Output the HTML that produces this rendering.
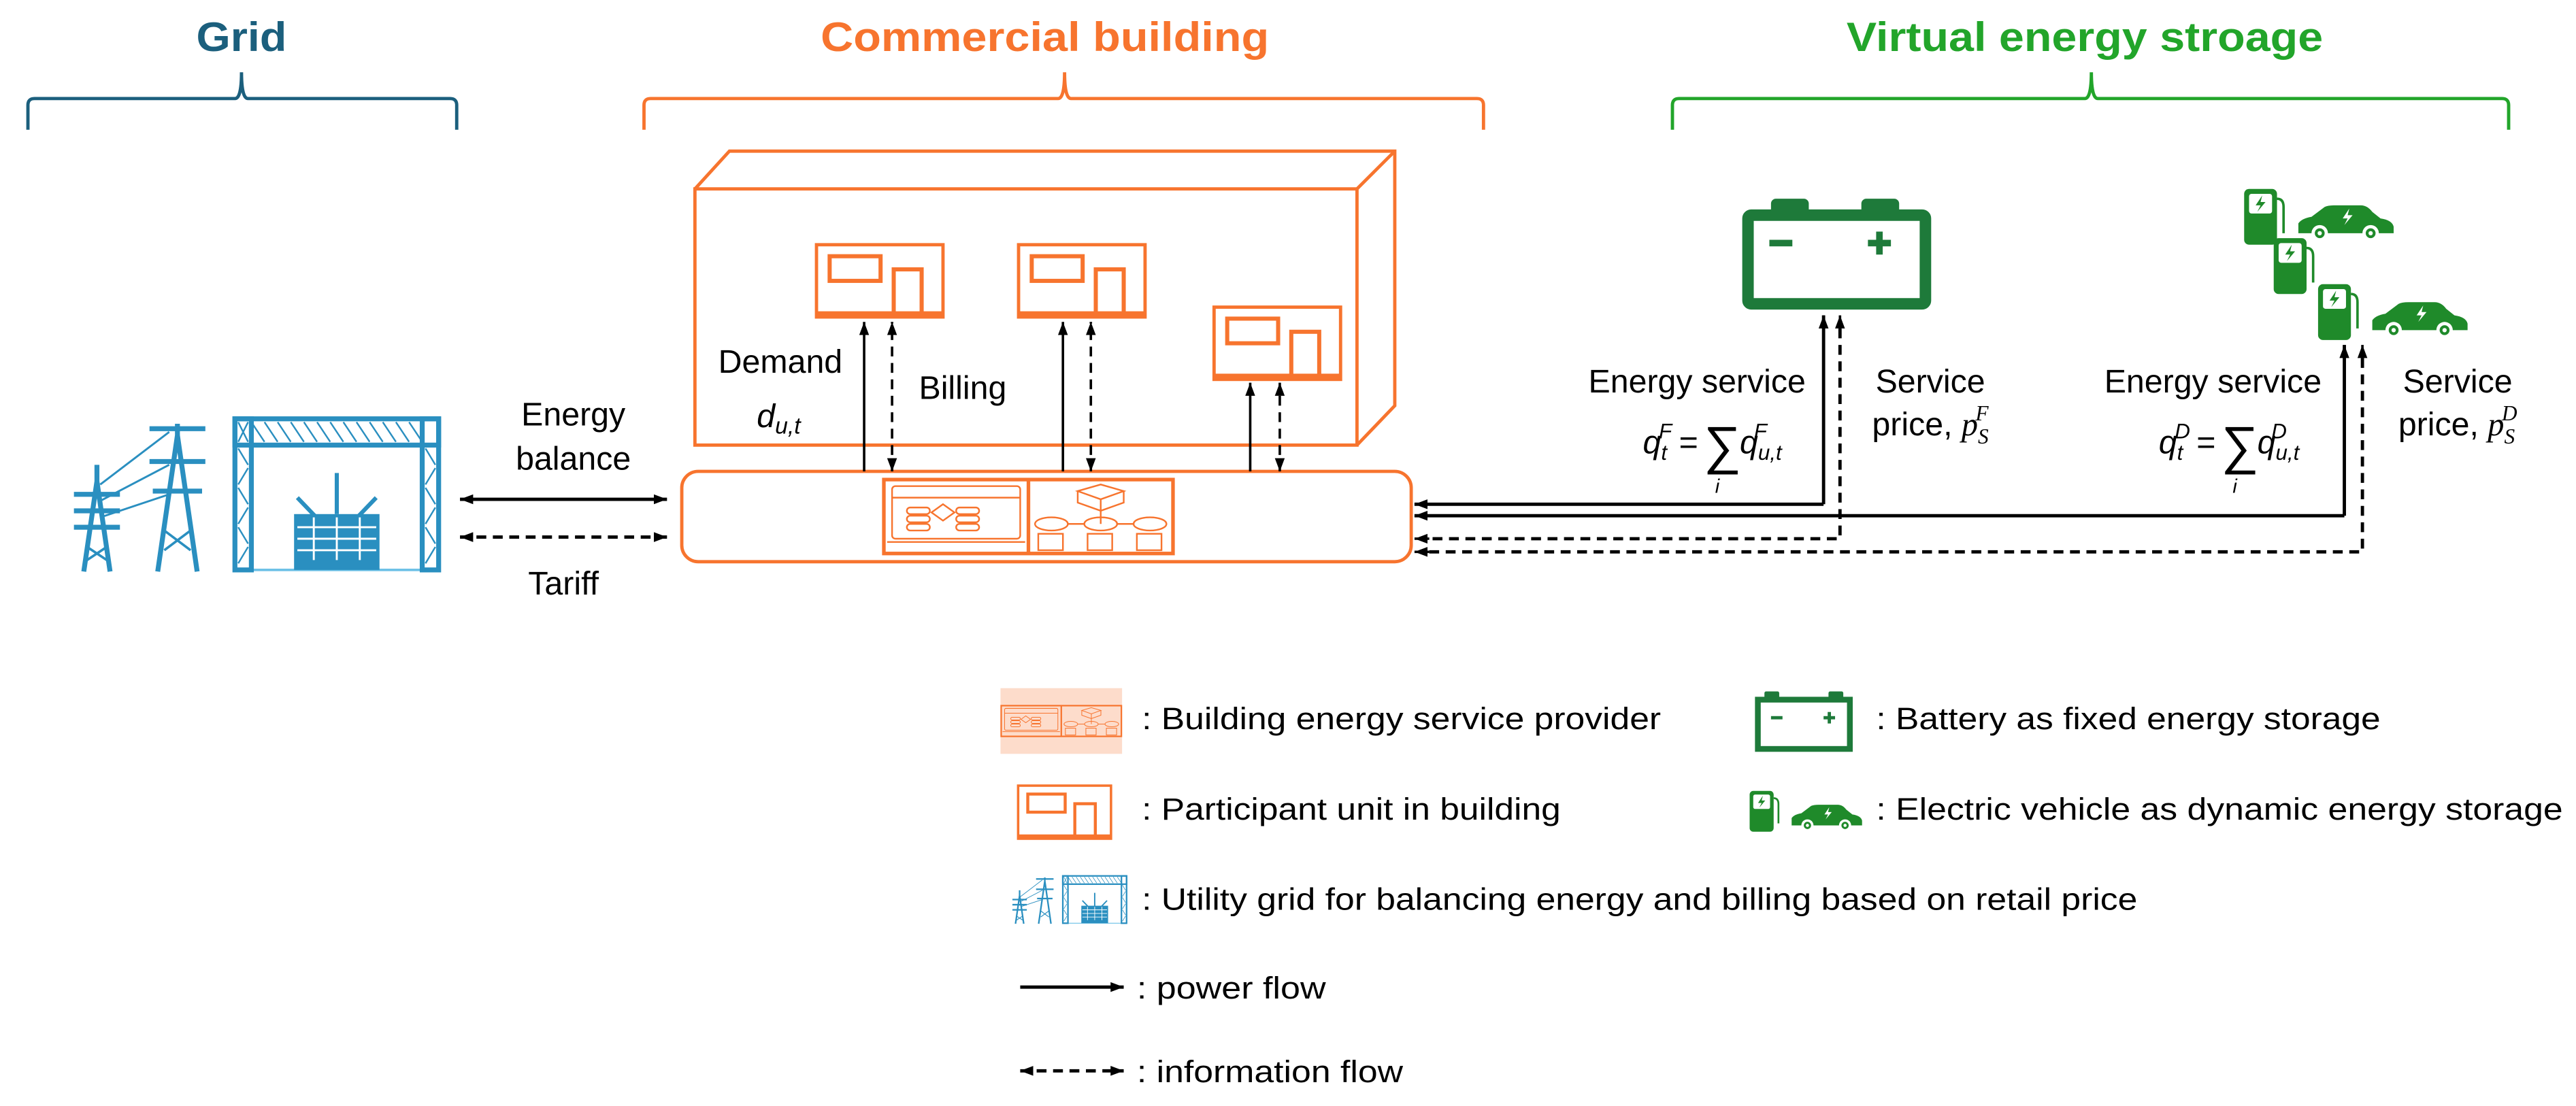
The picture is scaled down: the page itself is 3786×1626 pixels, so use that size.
<!DOCTYPE html>
<html><head><meta charset="utf-8"><style>
html,body{margin:0;padding:0;background:#fff;}
svg{display:block;}
text{font-family:"Liberation Sans",Arial,sans-serif;}
</style></head><body>
<svg width="3786" height="1626" viewBox="0 0 1568 673.4" xmlns="http://www.w3.org/2000/svg">
<defs>
<marker id="ah" viewBox="0 0 8 6" refX="8" refY="3" markerWidth="8" markerHeight="6" markerUnits="userSpaceOnUse" orient="auto-start-reverse"><path d="M0,0 L8,3 L0,6 z" fill="#000"/></marker>
<symbol id="unit" viewBox="0 0 79 46" overflow="visible">
<rect x="1" y="1" width="77" height="44" fill="#fff" stroke="#f7742e" stroke-width="2"/>
<line x1="1" y1="43" x2="78" y2="43" stroke="#f7742e" stroke-width="3"/>
<rect x="9" y="8" width="31" height="15" fill="none" stroke="#f7742e" stroke-width="2.5"/>
<rect x="48" y="16" width="17" height="27" fill="none" stroke="#f7742e" stroke-width="2.5"/>
</symbol>
<symbol id="prov" viewBox="0 0 178 47" overflow="visible">
<rect x="1" y="1" width="176" height="45" fill="#fff" stroke="#f7742e" stroke-width="2.2"/>
<line x1="89" y1="1" x2="89" y2="46" stroke="#f7742e" stroke-width="2.2"/>
<g fill="none" stroke="#f7742e" stroke-width="1">
<rect x="6" y="5" width="78" height="32" rx="2"/>
<line x1="6" y1="12" x2="84" y2="12"/>
<line x1="3" y1="39" x2="87" y2="39"/>
<path d="M30,21 L37,16 L44,21 L37,26 Z"/>
<rect x="15" y="18" width="14" height="4" rx="2"/><rect x="15" y="23" width="14" height="4" rx="2"/><rect x="15" y="28" width="14" height="4" rx="2"/>
<rect x="45" y="18" width="14" height="4" rx="2"/><rect x="45" y="23" width="14" height="4" rx="2"/><rect x="45" y="28" width="14" height="4" rx="2"/>
<path d="M119,8 L133,4 L147,8 L133,13 Z M119,8 L119,15 L133,20 L147,15 L147,8 M133,13 L133,28"/>
<ellipse cx="103" cy="28" rx="10" ry="4"/><ellipse cx="133" cy="28" rx="10" ry="4"/><ellipse cx="163" cy="28" rx="10" ry="4"/>
<line x1="113" y1="28" x2="123" y2="28"/><line x1="143" y1="28" x2="153" y2="28"/>
<rect x="95" y="34" width="15" height="10"/><rect x="125" y="34" width="15" height="10"/><rect x="155" y="34" width="15" height="10"/>
</g>
</symbol>
<symbol id="charger" viewBox="0 0 26 34" overflow="visible">
<rect x="0" y="0" width="20" height="34" rx="3" fill="#1f8a2a"/>
<rect x="3" y="3" width="14" height="12" rx="1.5" fill="#fff"/>
<path d="M11,4 L7,10 L10,10 L8,14 L13,8 L10,8 Z" fill="#1f8a2a"/>
<path d="M20,6 Q24,6 24,11 L24,27" fill="none" stroke="#1f8a2a" stroke-width="1.5"/>
</symbol>
<symbol id="car" viewBox="0 0 58 23" overflow="visible">
<path d="M0,17 L0,11 Q2,8 8,7 L16,1 Q18,0 22,0 L38,0 Q42,0 45,4 L50,8 Q57,9 58,13 L58,17 Z" fill="#1f8a2a"/>
<circle cx="13" cy="17" r="5" fill="#fff"/><circle cx="13" cy="17" r="3" fill="#1f8a2a"/><circle cx="13" cy="17" r="1.3" fill="#fff"/>
<circle cx="44" cy="17" r="5" fill="#fff"/><circle cx="44" cy="17" r="3" fill="#1f8a2a"/><circle cx="44" cy="17" r="1.3" fill="#fff"/>
<path d="M31,2 L27,8 L30,8 L28,12 L33,6 L30,6 Z" fill="#fff"/>
</symbol>
<symbol id="grid" viewBox="0 0 230 101" overflow="visible">
<g stroke="#2a8fc0" stroke-width="3" fill="none">
<!-- tower 1 -->
<path d="M10,95 L18,40 L26,95 M18,40 L18,30"/>
<line x1="4" y1="48" x2="32" y2="48"/><line x1="4" y1="58" x2="32" y2="58"/><line x1="4" y1="68" x2="32" y2="68"/>
<path d="M12,80 L24,88 M24,80 L12,88" stroke-width="1.5"/>
<!-- tower 2 -->
<path d="M55,95 L67,12 L79,95 M67,12 L67,5"/>
<line x1="50" y1="8" x2="84" y2="8"/><line x1="50" y1="28" x2="84" y2="28"/><line x1="52" y1="46" x2="82" y2="46"/>
<path d="M59,70 L75,82 M75,70 L59,82" stroke-width="1.5"/>
<path d="M20,42 L62,10 M20,52 L62,30 M20,62 L62,48" stroke-width="1.2"/>
<!-- substation frame -->
<rect x="102" y="2" width="124" height="92" stroke-width="1.5" stroke="#6cc0e6"/>
<rect x="102" y="2" width="124" height="16" stroke-width="3"/>
<rect x="102" y="2" width="10" height="92" stroke-width="3"/>
<rect x="216" y="2" width="10" height="92" stroke-width="3"/>
<path d="M104,4 L110,16 M110,4 L104,16 M112,4 L120,16 M120,4 L128,16 M128,4 L136,16 M136,4 L144,16 M144,4 L152,16 M152,4 L160,16 M160,4 L168,16 M168,4 L176,16 M176,4 L184,16 M184,4 L192,16 M192,4 L200,16 M200,4 L208,16 M208,4 L216,16" stroke-width="1"/>
<path d="M104,20 L110,30 M110,32 L104,42 M104,44 L110,54 M110,56 L104,66 M104,68 L110,78 M110,80 L104,90 M218,20 L224,30 M224,32 L218,42 M218,44 L224,54 M224,56 L218,66 M218,68 L224,78 M224,80 L218,90" stroke-width="1"/>
<path d="M140,50 L164,75 L188,50 M164,35 L164,60" stroke-width="2.5"/>
</g>
<rect x="138" y="60" width="52" height="34" fill="#2a8fc0"/>
<g stroke="#fff" stroke-width="1.2"><line x1="140" y1="68" x2="188" y2="68"/><line x1="140" y1="75" x2="188" y2="75"/><line x1="140" y1="82" x2="188" y2="82"/><line x1="150" y1="62" x2="150" y2="88"/><line x1="164" y1="62" x2="164" y2="88"/><line x1="178" y1="62" x2="178" y2="88"/></g>
</symbol>
</defs>

<!-- Titles -->
<text x="147" y="31" font-size="25" font-weight="bold" fill="#1b5f7d" text-anchor="middle" textLength="55" lengthAdjust="spacingAndGlyphs">Grid</text>
<text x="636" y="31" font-size="25" font-weight="bold" fill="#f7742e" text-anchor="middle" textLength="273" lengthAdjust="spacingAndGlyphs">Commercial building</text>
<text x="1269" y="31" font-size="25" font-weight="bold" fill="#22a52a" text-anchor="middle" textLength="290" lengthAdjust="spacingAndGlyphs">Virtual energy stroage</text>

<!-- Braces -->
<path d="M17,79 L17,64 Q17,60 21,60 L143,60 Q147,60 147,44 Q147,60 151,60 L274,60 Q278,60 278,64 L278,79" fill="none" stroke="#1b5f7d" stroke-width="2"/>
<path d="M392,79 L392,64 Q392,60 396,60 L644,60 Q648,60 648,44 Q648,60 652,60 L899,60 Q903,60 903,64 L903,79" fill="none" stroke="#f7742e" stroke-width="2"/>
<path d="M1018,79 L1018,64 Q1018,60 1022,60 L1269,60 Q1273,60 1273,44 Q1273,60 1277,60 L1523,60 Q1527,60 1527,64 L1527,79" fill="none" stroke="#22a52a" stroke-width="2"/>

<!-- Building box -->
<g fill="none" stroke="#f7742e" stroke-width="2">
<path d="M423,115 L444,92 L849,92 L849,247 L826,271"/>
<line x1="826" y1="115" x2="849" y2="92"/>
<rect x="423" y="115" width="403" height="156" fill="#fff"/>
</g>
<use href="#unit" x="496" y="148" width="79" height="46"/>
<use href="#unit" x="619" y="148" width="79" height="46"/>
<use href="#unit" x="738" y="186" width="79" height="46"/>

<!-- provider -->
<rect x="415" y="287" width="444" height="55" rx="10" fill="#fff" stroke="#f7742e" stroke-width="2"/>
<use href="#prov" x="537" y="291" width="178" height="47"/>

<!-- unit arrows -->
<g stroke="#000" stroke-width="1.5" fill="none">
<line x1="526" y1="287" x2="526" y2="196" marker-end="url(#ah)"/>
<line x1="543" y1="287" x2="543" y2="196" stroke-dasharray="6 4" marker-start="url(#ah)" marker-end="url(#ah)"/>
<line x1="647" y1="287" x2="647" y2="196" marker-end="url(#ah)"/>
<line x1="664" y1="287" x2="664" y2="196" stroke-dasharray="6 4" marker-start="url(#ah)" marker-end="url(#ah)"/>
<line x1="761" y1="287" x2="761" y2="233" marker-end="url(#ah)"/>
<line x1="779" y1="287" x2="779" y2="233" stroke-dasharray="6 4" marker-start="url(#ah)" marker-end="url(#ah)"/>
<!-- grid arrows -->
<line x1="280" y1="304" x2="406" y2="304" stroke-width="2" marker-start="url(#ah)" marker-end="url(#ah)"/>
<line x1="280" y1="327" x2="406" y2="327" stroke-width="2" stroke-dasharray="6 4" marker-start="url(#ah)" marker-end="url(#ah)"/>
<!-- storage arrows -->
<path d="M1110,307 L861,307 M1110,307 L1110,192" stroke-width="2"/>
<line x1="870" y1="307" x2="861" y2="307" marker-end="url(#ah)"/>
<line x1="1110" y1="200" x2="1110" y2="192" marker-end="url(#ah)"/>
<path d="M1427,314 L861,314 M1427,314 L1427,210" stroke-width="2"/>
<line x1="870" y1="314" x2="861" y2="314" marker-end="url(#ah)"/>
<line x1="1427" y1="218" x2="1427" y2="210" marker-end="url(#ah)"/>
<path d="M1120,200 L1120,328 L869,328" stroke-width="2" stroke-dasharray="6 4"/>
<line x1="870" y1="328" x2="861" y2="328" marker-end="url(#ah)"/>
<line x1="1120" y1="200" x2="1120" y2="192" marker-end="url(#ah)"/>
<path d="M1438,218 L1438,336 L869,336" stroke-width="2" stroke-dasharray="6 4"/>
<line x1="870" y1="336" x2="861" y2="336" marker-end="url(#ah)"/>
<line x1="1438" y1="218" x2="1438" y2="210" marker-end="url(#ah)"/>
</g>

<!-- grid icon -->
<use href="#grid" x="41" y="253" width="230" height="101"/>

<!-- battery -->
<rect x="1078" y="121" width="23" height="10" rx="3" fill="#1e7a3a"/>
<rect x="1133" y="121" width="23" height="10" rx="3" fill="#1e7a3a"/>
<rect x="1064" y="131" width="108" height="54" rx="2" fill="none" stroke="#1e7a3a" stroke-width="7"/>
<rect x="1077" y="146" width="14" height="4" fill="#1e7a3a"/>
<rect x="1137" y="146" width="14" height="4" fill="#1e7a3a"/><rect x="1142" y="141" width="4" height="14" fill="#1e7a3a"/>

<!-- EV -->
<use href="#car" x="1399" y="125" width="58" height="23"/>
<use href="#charger" x="1366" y="115" width="26" height="34"/>
<use href="#charger" x="1384" y="145" width="26" height="34"/>
<use href="#car" x="1444" y="184" width="58" height="23"/>
<use href="#charger" x="1411" y="173" width="26" height="34"/>

<!-- labels -->
<g font-size="20" fill="#000">
<text x="475" y="227" text-anchor="middle">Demand</text>
<text x="474" y="260" text-anchor="middle" font-family="Liberation Serif" font-style="italic">d<tspan font-size="14" dy="4">u,t</tspan></text>
<text x="586" y="243" text-anchor="middle">Billing</text>
<text x="349" y="259" text-anchor="middle">Energy</text>
<text x="349" y="286" text-anchor="middle">balance</text>
<text x="343" y="362" text-anchor="middle">Tariff</text>
<text x="1033" y="239" text-anchor="middle">Energy service</text>
<text x="1175" y="239" text-anchor="middle">Service</text>
<text x="1175" y="265" text-anchor="middle">price, <tspan font-family="Liberation Serif" font-style="italic">p</tspan><tspan font-family="Liberation Serif" font-style="italic" font-size="13" dy="5">S</tspan><tspan font-family="Liberation Serif" font-style="italic" font-size="13" dx="-8" dy="-14">F</tspan></text>
<text x="1347" y="239" text-anchor="middle">Energy service</text>
<text x="1496" y="239" text-anchor="middle">Service</text>
<text x="1496" y="265" text-anchor="middle">price, <tspan font-family="Liberation Serif" font-style="italic">p</tspan><tspan font-family="Liberation Serif" font-style="italic" font-size="13" dy="5">S</tspan><tspan font-family="Liberation Serif" font-style="italic" font-size="13" dx="-8" dy="-14">D</tspan></text>
</g>
<g font-family="Liberation Serif" fill="#000">
<text x="1000" y="276" font-size="20" font-style="italic">q<tspan font-size="13" dy="4">t</tspan><tspan font-size="13" dx="-5" dy="-13">F</tspan></text>
<text x="1022" y="276" font-size="20">=</text>
<text x="1037" y="282" font-size="32">∑</text>
<text x="1044" y="300" font-size="12" font-style="italic">i</text>
<text x="1059" y="276" font-size="20" font-style="italic">q<tspan font-size="13" dy="4">u,t</tspan><tspan font-size="13" dx="-17" dy="-13">F</tspan></text>
<text x="1314" y="276" font-size="20" font-style="italic">q<tspan font-size="13" dy="4">t</tspan><tspan font-size="13" dx="-5" dy="-13">D</tspan></text>
<text x="1337" y="276" font-size="20">=</text>
<text x="1352" y="282" font-size="32">∑</text>
<text x="1359" y="300" font-size="12" font-style="italic">i</text>
<text x="1374" y="276" font-size="20" font-style="italic">q<tspan font-size="13" dy="4">u,t</tspan><tspan font-size="13" dx="-17" dy="-13">D</tspan></text>
</g>

<!-- legend -->
<use href="#prov" x="609" y="419" width="74" height="40"/>
<rect x="609" y="419" width="74" height="40" fill="#f7742e" opacity="0.25"/>
<use href="#unit" x="619" y="476" width="58" height="37"/>
<use href="#grid" x="615" y="527" width="72" height="43"/>
<rect x="1074" y="421" width="9" height="5" rx="1" fill="#1e7a3a"/><rect x="1113" y="421" width="9" height="5" rx="1" fill="#1e7a3a"/>
<rect x="1070" y="426" width="56" height="30" fill="none" stroke="#1e7a3a" stroke-width="3.5"/>
<rect x="1078" y="436" width="7" height="2" fill="#1e7a3a"/><rect x="1110" y="436" width="7" height="2" fill="#1e7a3a"/><rect x="1112.5" y="433.5" width="2" height="7" fill="#1e7a3a"/>
<use href="#charger" x="1065" y="481" width="19" height="26"/>
<use href="#car" x="1090" y="490" width="44" height="17"/>
<g stroke="#000" stroke-width="2">
<line x1="621" y1="601" x2="684" y2="601" marker-end="url(#ah)"/>
<line x1="621" y1="652" x2="684" y2="652" stroke-dasharray="6 4" marker-start="url(#ah)" marker-end="url(#ah)"/>
</g>
<g font-size="19" fill="#000">
<text x="695" y="444" textLength="316" lengthAdjust="spacingAndGlyphs">: Building energy service provider</text>
<text x="1142" y="444" textLength="307" lengthAdjust="spacingAndGlyphs">: Battery as fixed energy storage</text>
<text x="695" y="499" textLength="255" lengthAdjust="spacingAndGlyphs">: Participant unit in building</text>
<text x="1142" y="499" textLength="418" lengthAdjust="spacingAndGlyphs">: Electric vehicle as dynamic energy storage</text>
<text x="695" y="554" textLength="606" lengthAdjust="spacingAndGlyphs">: Utility grid for balancing energy and billing based on retail price</text>
<text x="692" y="608" textLength="115" lengthAdjust="spacingAndGlyphs">: power flow</text>
<text x="692" y="659" textLength="162" lengthAdjust="spacingAndGlyphs">: information flow</text>
</g>
</svg>
</body></html>
